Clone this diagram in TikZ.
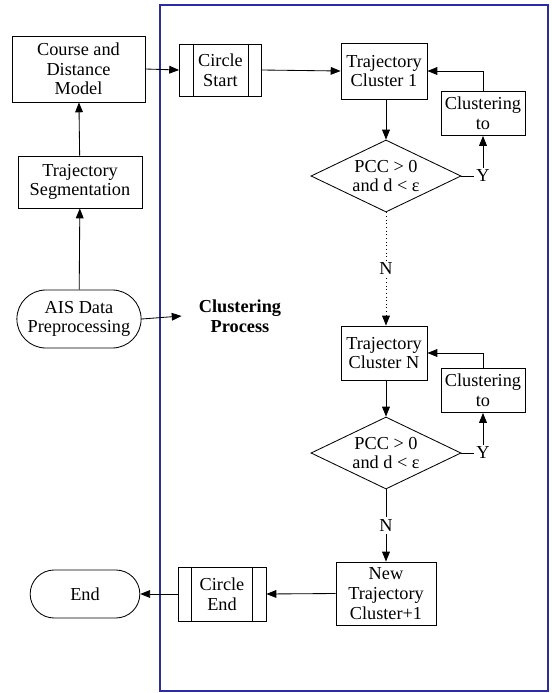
\documentclass[tikz,border=0pt]{standalone}
\usepackage{fontspec}
\setmainfont{Liberation Serif}
\usepackage{tikz}
\usetikzlibrary{shapes.geometric, shapes.misc, arrows.meta}
\definecolor{framecol}{RGB}{45,45,150}
\tikzstyle{startstop} = [rounded rectangle, minimum width=3.1cm, minimum height=1.45cm, text centered, align=center, draw=black]
\tikzstyle{process} = [rectangle, minimum width=2.15cm, minimum height=1.4cm, inner sep=1pt, text centered, align=center, draw=black]
\tikzstyle{predproc} = [process, minimum width=2.05cm, minimum height=1.3cm]
\tikzstyle{decision} = [diamond, aspect=2.1, minimum width=3.75cm, minimum height=1.8cm, inner sep=0pt, align=center, draw=black]
\tikzstyle{arrow} = [->,>={Triangle[length=7pt, width=5.5pt]}]
\tikzstyle{lbl} = [fill=white, inner sep=1.5pt]
\tikzstyle{frame} = [draw=framecol, line width=0.9pt]

\begin{document}
\begin{tikzpicture}[x=0.025cm, y=-0.025cm, line width=0.6pt, font=\fontsize{13}{14}\selectfont]
        \useasboundingbox (0,0) rectangle (552,693);
        \draw [frame] (160,5) rectangle (548,691);

        % Nodes
        \node (model) [process, minimum width=3.325cm, minimum height=1.65cm] at (78.5,69) {Course and\\Distance\\Model};
        \node (seg) [process, minimum width=3.1cm, minimum height=1.3cm] at (80,182) {Trajectory\\Segmentation};
        \node (ais) [startstop] at (79,319) {AIS Data\\Preprocessing};
        \node (stop) [startstop, minimum width=2.975cm, minimum height=1.2cm] at (85,594) {End};
        \node (clproc) [inner sep=12pt, align=center, font=\fontsize{13}{14}\selectfont\bfseries] at (240,316) {Clustering\\Process};
        \node (cstart) [predproc] at (220.5,70) {Circle\\Start};
        \node (tc1) [process] at (384,71) {Trajectory\\Cluster 1};
        \node (clu1) [process, minimum width=2.1cm, minimum height=1.1cm] at (483,113.5) {Clustering\\to};
        \node (d1) [decision] at (386,176) {PCC > 0\\and d < ε};
        \node (tcN) [process, minimum height=1.35cm] at (384,353) {Trajectory\\Cluster N};
        \node (cluN) [process, minimum width=2.1cm, minimum height=1.1cm] at (483,390.5) {Clustering\\to};
        \node (dN) [decision] at (386,453) {PCC > 0\\and d < ε};
        \node (newtc) [process, minimum width=2.5cm, minimum height=1.575cm] at (386,593.5) {New\\Trajectory\\Cluster+1};
        \node (cend) [predproc, minimum width=2.2cm, minimum height=1.35cm] at (222,594) {Circle\\End};
        \foreach \n in {cstart, cend} {
            \draw ([xshift=0.35cm]\n.north west) -- ([xshift=0.35cm]\n.south west);
            \draw ([xshift=-0.35cm]\n.north east) -- ([xshift=-0.35cm]\n.south east);
        }

        % Arrows
        \draw [arrow] (ais) -- (seg);
        \draw [arrow] (seg) -- (model);
        \draw [arrow] (model.east) -- (cstart.west);
        \draw [arrow] (ais.east) -- (clproc.west);
        \draw [arrow] (cstart.east) -- (tc1.west);
        \draw [arrow] (tc1.south -| d1.north) -- (d1.north);
        \draw [arrow] (d1.east) -| node[lbl, pos=0.5] {Y} (clu1.south);
        \draw [arrow] (clu1.north) |- (tc1.east);
        \draw [arrow, dotted] (d1.south) -- node[lbl] {N} (tcN.north -| d1.south);
        \draw [arrow] (tcN.south -| dN.north) -- (dN.north);
        \draw [arrow] (dN.east) -| node[lbl, pos=0.5] {Y} (cluN.south);
        \draw [arrow] (cluN.north) |- (tcN.east);
        \draw [arrow] (dN.south) -- node[lbl] {N} (newtc.north);
        \draw [arrow] (newtc.west) -- (cend.east);
        \draw [arrow] (cend.west) -- (stop.east);
    \end{tikzpicture}
\end{document}
